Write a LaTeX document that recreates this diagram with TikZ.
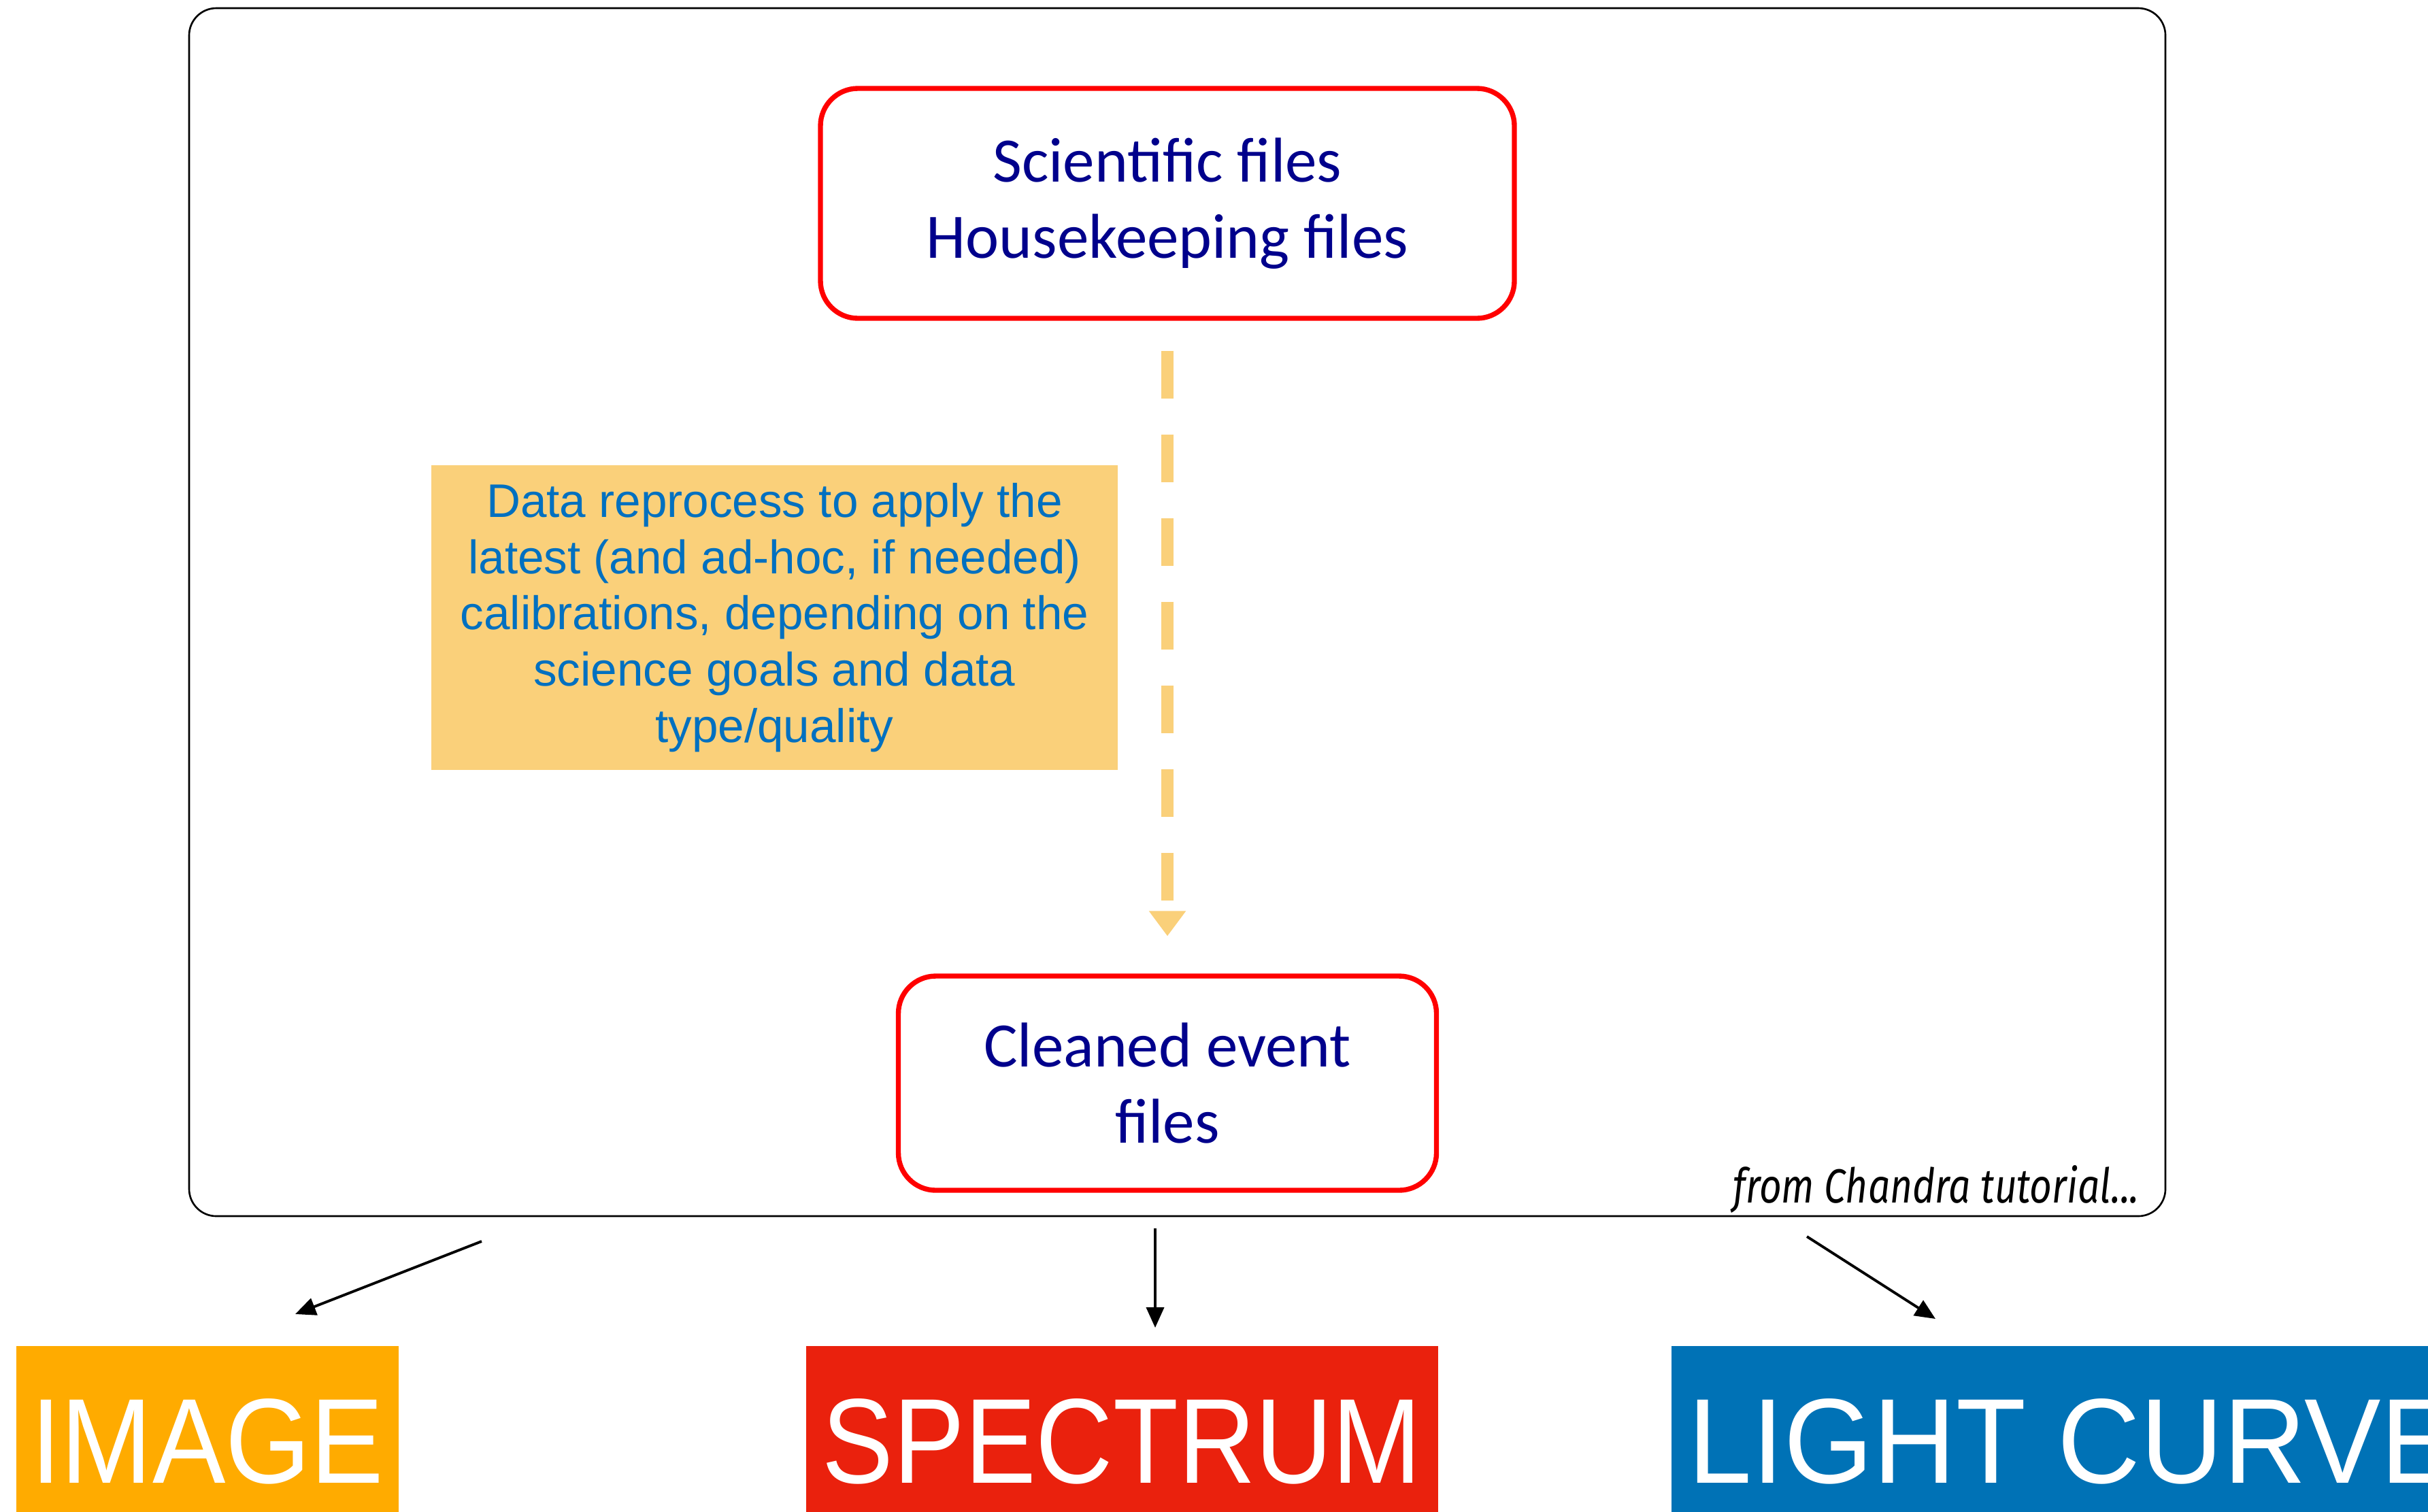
\documentclass[tikz,border=0pt]{standalone}
\usepackage{fontspec}
\usepackage{graphicx}
\setmainfont{Carlito}
\newfontfamily\arialfont{Liberation Sans}
\newfontfamily\notefont{Fira Sans}
\usetikzlibrary{arrows.meta,positioning}

\definecolor{filenavy}{RGB}{0,0,140}
\definecolor{calibyellow}{RGB}{250,208,122}
\definecolor{calibblue}{RGB}{0,112,192}
\definecolor{imgorange}{RGB}{255,171,0}
\definecolor{specred}{RGB}{234,33,13}
\definecolor{lcblue}{RGB}{0,114,182}

\tikzset{
  filebox/.style={draw=red, line width=2.1pt, rounded corners=0.55cm, fill=white,
    text=filenavy, align=center, font=\fontsize{26.5}{31.8}\selectfont},
  calibbox/.style={fill=calibyellow, text=calibblue, align=center,
    minimum width=10.09cm, minimum height=4.48cm, font=\arialfont\fontsize{19.7}{23.5}\selectfont},
  product/.style={minimum height=2.82cm, inner sep=0pt, text=white, anchor=north west},
  outarrow/.style={-{Triangle[length=0.3cm,width=0.26cm]}, line width=1.1pt}
}

\begin{document}
\begin{tikzpicture}
  \useasboundingbox (0,0) rectangle (35.69,-22.22);

  % cornice esterna
  \draw[line width=0.75pt, rounded corners=0.4cm] (2.78,-0.12) rectangle (31.83,-17.88);

  % file di partenza e file puliti
  \node[filebox, minimum width=10.2cm, minimum height=3.38cm] (raw) at (17.16,-2.99)
    {Scientific files\\Housekeeping files};
  \node[filebox, minimum width=7.91cm, minimum height=3.15cm] (clean) at (17.16,-15.925)
    {Cleaned event\\files};

  % freccia tratteggiata
  \draw[calibyellow, line width=0.18cm, dash pattern=on 0.7cm off 0.53cm,
        -{Triangle[length=0.37cm,width=0.52cm]}, shorten <=0.44cm, shorten >=0.55cm]
    (raw.south) -- (clean.north);

  % nota sulla calibrazione
  \node[calibbox] (calib) at (11.385,-9.08)
    {Data reprocess to apply the\\latest (and ad-hoc, if needed)\\calibrations, depending on the\\science goals and data\\type/quality};

  \node[anchor=base east, inner sep=0pt] (note) at (31.45,-17.68)
    {\resizebox{5.97cm}{0.55cm}{\notefont\itshape from Chandra tutorial...}};

  % frecce verso i prodotti
  \coordinate (imgfrom) at (7.08,-18.25);
  \coordinate (imgto) at (4.34,-19.32);
  \coordinate (specfrom) at (16.98,-18.06);
  \coordinate (specto) at (16.98,-19.52);
  \coordinate (lcfrom) at (26.56,-18.18);
  \coordinate (lcto) at (28.45,-19.39);
  \draw[outarrow] (imgfrom) -- (imgto);
  \draw[outarrow] (specfrom) -- (specto);
  \draw[outarrow] (lcfrom) -- (lcto);

  % prodotti finali
  \node[product, fill=imgorange, minimum width=5.62cm] (image) at (0.23,-19.78)
    {\resizebox{5.19cm}{1.24cm}{\arialfont IMAGE}};
  \node[product, fill=specred, minimum width=9.29cm] (spectrum) at (11.84,-19.78)
    {\resizebox{8.81cm}{1.24cm}{\arialfont SPECTRUM}};
  \node[product, fill=lcblue, minimum width=11.8cm] (lightcurve) at (24.56,-19.78)
    {\resizebox{11.3cm}{1.24cm}{\arialfont LIGHT CURVE}};
\end{tikzpicture}
\end{document}
